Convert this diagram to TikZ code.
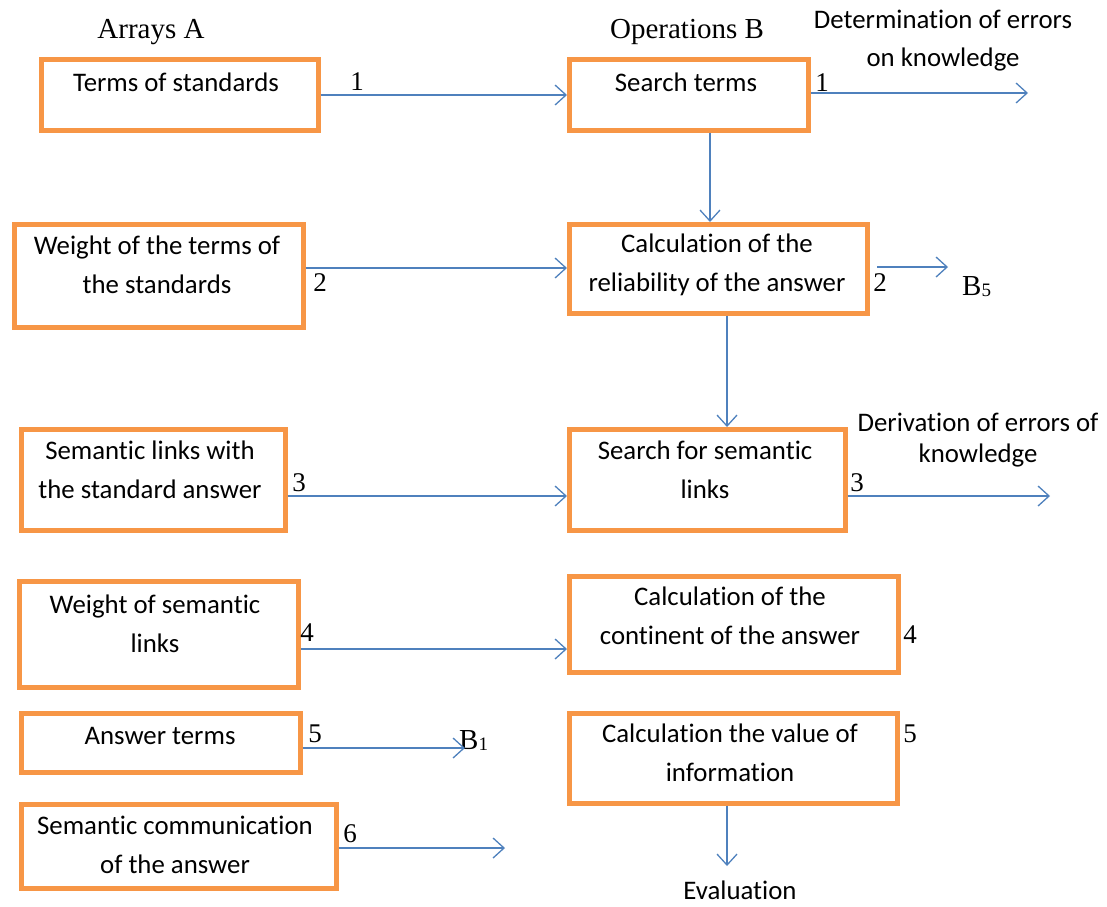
\documentclass[tikz,border=0pt]{standalone}
\usepackage{fontspec}
\setmainfont{Liberation Serif}
\newfontfamily\carl[Ligatures=CommonOff]{Carlito}
\usetikzlibrary{arrows.meta}
\definecolor{boxorange}{HTML}{F79646}
\definecolor{arrblue}{HTML}{4F81BD}
\begin{document}
\begin{tikzpicture}[x=1pt,y=-1pt,
  box/.style={draw=boxorange,line width=4.5pt,rectangle,anchor=north west,inner sep=0pt},
  txt/.style={font=\carl\fontsize{26.8}{39}\selectfont,align=center,inner sep=0pt},
  tms/.style={font=\fontsize{29}{30}\selectfont,inner sep=0pt},
  num/.style={font=\fontsize{27}{30}\selectfont,inner sep=0pt},
  arr/.style={draw=arrblue,line width=1.3pt,-{Straight Barb[length=11pt,width=20pt,line width=1.3pt]}}]
\useasboundingbox (0,0) rectangle (1107,906);
% headers
\node[tms] (hA) at (151,32) {Arrays A};
\node[tms] (hB) at (687,32) {Operations B};
% boxes column A
\node[box,minimum width=277pt,minimum height=71pt] (a1) at (39,57) {};
\node[box,minimum width=289pt,minimum height=103pt] (a2) at (12,222) {};
\node[box,minimum width=264pt,minimum height=101pt] (a3) at (19,427) {};
\node[box,minimum width=279pt,minimum height=106pt] (a4) at (17,579) {};
\node[box,minimum width=279pt,minimum height=59pt] (a5) at (19,711) {};
\node[box,minimum width=315pt,minimum height=84pt] (a6) at (19,802) {};
% boxes column B
\node[box,minimum width=239pt,minimum height=71pt] (b1) at (567,57) {};
\node[box,minimum width=298pt,minimum height=89pt] (b2) at (567,222) {};
\node[box,minimum width=276pt,minimum height=101pt] (b3) at (567,427) {};
\node[box,minimum width=329pt,minimum height=96pt] (b4) at (567,574) {};
\node[box,minimum width=328pt,minimum height=90pt] (b5) at (567,711) {};
% box texts
\node[txt] (ta1) at (176,82) {Terms of standards};
\node[txt] (ta2) at (157,265) {Weight of the terms of\\the standards};
\node[txt] (ta3) at (150,470) {Semantic links with\\the standard answer};
\node[txt] (ta4) at (155,624) {Weight of semantic\\links};
\node[txt] (ta5) at (160,736) {Answer terms};
\node[txt] (ta6) at (175,845) {Semantic communication\\of the answer};
\node[txt] (tb1) at (686,82) {Search terms};
\node[txt] (tb2) at (717,265) {Calculation of the\\reliability of the answer};
\node[txt] (tb3) at (705,470) {Search for semantic\\links};
\node[txt] (tb4) at (730,616) {Calculation of the\\continent of the answer};
\node[txt] (tb5) at (730,753) {Calculation the value of\\information};
% outside texts
\node[txt,font=\carl\fontsize{26.8}{38}\selectfont] (err1) at (943,41) {Determination of errors\\on knowledge};
\node[txt,font=\carl\fontsize{26.8}{31}\selectfont] (err2) at (978,440) {Derivation of errors of\\knowledge};
\node[txt] (ev) at (740,890) {Evaluation};
\node[tms,anchor=west] (bfive) at (962,287) {B\raisebox{-1pt}{\fontsize{19}{19}\selectfont 5}};
\node[tms,anchor=west] (bone) at (459,740) {B\raisebox{-1pt}{\fontsize{19}{19}\selectfont 1}};
% free ends
\coordinate (e1) at (1028,93);
\coordinate (e2) at (948,267);
\coordinate (e3) at (1050,496);
\coordinate (e5) at (465,748);
\coordinate (e6) at (505,848);
\coordinate (ev0) at (727,866);
\coordinate (s2) at (877,267);
% arrows
\draw[arr] (a1.east |- 0,95) -- (b1.west |- 0,95);
\draw[arr] (a2.east |- 0,268) -- (b2.west |- 0,268);
\draw[arr] (a3.east |- 0,496) -- (b3.west |- 0,496);
\draw[arr] (a4.east |- 0,649) -- (b4.west |- 0,649);
\draw[arr] (a5.east |- e5) -- (e5);
\draw[arr] (a6.east |- e6) -- (e6);
\draw[arr] (b1.east |- e1) -- (e1);
\draw[arr] (s2) -- (e2);
\draw[arr] (b3.east |- e3) -- (e3);
\draw[arr] (b1.south -| 710,0) -- (b2.north -| 710,0);
\draw[arr] (b2.south -| 727,0) -- (b3.north -| 727,0);
\draw[arr] (b5.south -| ev0) -- (ev0);
% numbers
\node[num] (n1a) at (357,82) {1};
\node[num] (n1b) at (822,83) {1};
\node[num] (n2a) at (320,283) {2};
\node[num] (n2b) at (880,283) {2};
\node[num] (n3a) at (299,483) {3};
\node[num] (n3b) at (857,483) {3};
\node[num] (n4a) at (307,633) {4};
\node[num] (n4b) at (910,635) {4};
\node[num] (n5a) at (315,734) {5};
\node[num] (n5b) at (910,734) {5};
\node[num] (n6a) at (350,834) {6};
\end{tikzpicture}
\end{document}
